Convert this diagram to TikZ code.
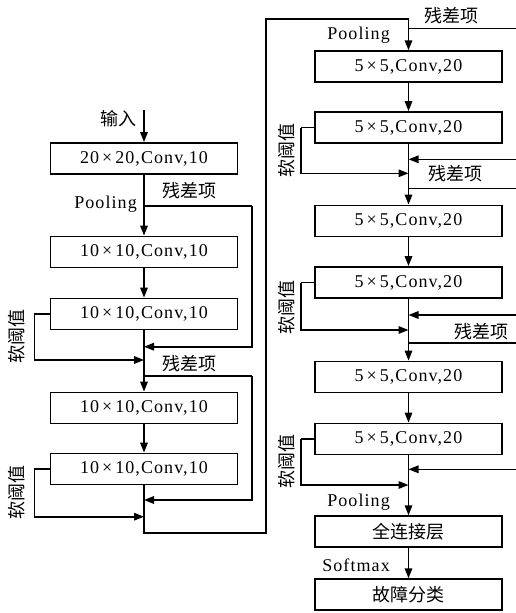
\documentclass[tikz,border=0pt]{standalone}
\usepackage{fontspec}
\setmainfont{Liberation Serif}[LetterSpace=6]
\newfontfamily\cjk{Noto Sans CJK SC}
\usetikzlibrary{arrows.meta}
\tikzset{
  box/.style={draw, line width=1.8pt, minimum width=187pt, minimum height=31pt, inner sep=0pt, font=\fontsize{18}{20}\selectfont},
  cbox/.style={box, font=\cjk\fontsize{18}{20}\selectfont},
  cn/.style={font=\cjk\fontsize{18}{20}\selectfont, inner sep=0pt},
  lat/.style={font=\fontsize{18}{20}\selectfont, inner sep=0pt},
  ln/.style={line width=1.6pt},
  arr/.style={ln, -{Triangle[length=10pt,width=7.5pt]}},
}
\begin{document}
\begin{tikzpicture}[x=1pt,y=-1pt]
\useasboundingbox (0,0) rectangle (516,613);
% left column boxes
\node[box] (b1) at (144,158.5) {20\,×\,20,Conv,10};
\node[box] (b2) at (144,252) {10\,×\,10,Conv,10};
\node[box] (b3) at (144,314) {10\,×\,10,Conv,10};
\node[box] (b4) at (144,408) {10\,×\,10,Conv,10};
\node[box] (b5) at (144,469) {10\,×\,10,Conv,10};
% right column boxes
\node[box] (b6) at (408.5,66.7) {5\,×\,5,Conv,20};
\node[box] (b7) at (408.5,127.5) {5\,×\,5,Conv,20};
\node[box] (b8) at (408.5,221) {5\,×\,5,Conv,20};
\node[box] (b9) at (408.5,282.5) {5\,×\,5,Conv,20};
\node[box] (b10) at (408.5,377) {5\,×\,5,Conv,20};
\node[box] (b11) at (408.5,439) {5\,×\,5,Conv,20};
\node[cbox] (b12) at (408.5,531.7) {全连接层};
\node[cbox] (b13) at (408.5,594.7) {故障分类};

% coordinates
\coordinate (in) at (144,110);
\coordinate (p1) at (144,206);
\coordinate (r1) at (251.7,206);
\coordinate (r1e) at (144,346.7);
\coordinate (s1) at (34.3,314);
\coordinate (s1e) at (144,360);
\coordinate (p2) at (144,376);
\coordinate (r2) at (251.7,376);
\coordinate (r2e) at (144,500);
\coordinate (s2) at (34.3,469);
\coordinate (s2e) at (144,516.7);
\coordinate (c1) at (144,533);
\coordinate (c2) at (266,533);
\coordinate (c3) at (266,19);
\coordinate (c4) at (408.5,19);
\coordinate (q0) at (408.5,28.3);
\coordinate (e0) at (516,28.3);
\coordinate (e1) at (516,159.3);
\coordinate (q1) at (408.5,159.3);
\coordinate (t1) at (300.7,127.5);
\coordinate (t1e) at (408.5,173.3);
\coordinate (q2) at (408.5,188.3);
\coordinate (e2) at (516,188.3);
\coordinate (e3) at (516,315);
\coordinate (q3) at (408.5,315);
\coordinate (t2) at (300.7,282.5);
\coordinate (t2e) at (408.5,330);
\coordinate (q4) at (408.5,342.7);
\coordinate (e4) at (516,342.7);
\coordinate (e5) at (516,469.3);
\coordinate (q5) at (408.5,469.3);
\coordinate (t3) at (300.7,439);
\coordinate (t3e) at (408.5,485);

% left column connectors
\draw[arr] (in) -- (b1);
\draw[arr] (b1) -- (b2);
\draw[ln] (p1) -- (r1);
\draw[arr] (r1) |- (r1e);
\draw[arr] (b2) -- (b3);
\draw[arr] (b3) -- (b4);
\draw[ln] (b3.west) -- (s1);
\draw[arr] (s1) |- (s1e);
\draw[ln] (p2) -- (r2);
\draw[arr] (r2) |- (r2e);
\draw[arr] (b4) -- (b5);
\draw[ln] (b5.west) -- (s2);
\draw[arr] (s2) |- (s2e);
\draw[arr] (b5.south) -- (c1) -- (c2) -- (c3) -- (c4) -- (b6.north);

% right column connectors
\draw[ln] (q0) -- (e0);
\draw[arr] (b6) -- (b7);
\draw[arr] (e1) -- (q1);
\draw[ln] (b7.west) -- (t1);
\draw[arr] (t1) |- (t1e);
\draw[ln] (q2) -- (e2);
\draw[arr] (b7) -- (b8);
\draw[arr] (b8) -- (b9);
\draw[arr] (e3) -- (q3);
\draw[ln] (b9.west) -- (t2);
\draw[arr] (t2) |- (t2e);
\draw[ln] (q4) -- (e4);
\draw[arr] (b9) -- (b10);
\draw[arr] (b10) -- (b11);
\draw[arr] (e5) -- (q5);
\draw[ln] (b11.west) -- (t3);
\draw[arr] (t3) |- (t3e);
\draw[arr] (b11) -- (b12);
\draw[arr] (b12) -- (b13);

% labels
\node[cn] (l1) at (118,118.5) {输入};
\node[lat, anchor=base east] (l2) at (137,208.3) {Pooling};
\node[cn] (l3) at (189.5,190.7) {残差项};
\node[cn] (l4) at (189.5,364) {残差项};
\node[cn, rotate=90] (l5) at (16.7,336.7) {软阈值};
\node[cn, rotate=90] (l6) at (16.7,492) {软阈值};
\node[cn] (l7) at (451,16) {残差项};
\node[lat, anchor=base east] (l8) at (390,39.3) {Pooling};
\node[cn, rotate=90] (l9) at (286.7,150) {软阈值};
\node[cn] (l10) at (455,174) {残差项};
\node[cn, rotate=90] (l11) at (286.7,307.5) {软阈值};
\node[cn] (l12) at (481,332) {残差项};
\node[cn, rotate=90] (l13) at (286.7,461) {软阈值};
\node[lat, anchor=base east] (l14) at (390,506) {Pooling};
\node[lat, anchor=base east] (l15) at (390,571.7) {Softmax};
\end{tikzpicture}
\end{document}
